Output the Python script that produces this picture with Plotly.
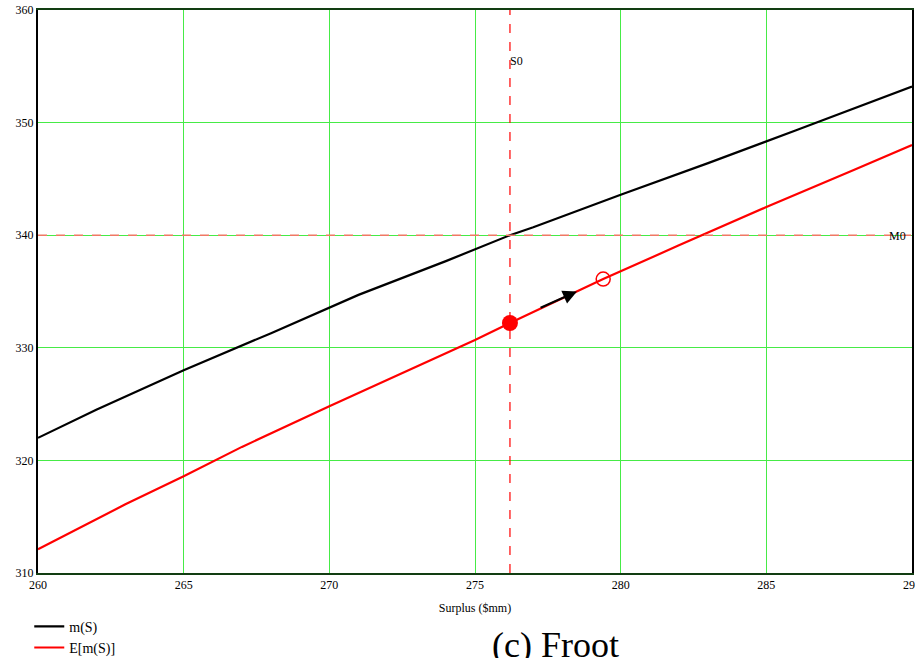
import plotly.graph_objects as go

# m(S) curve
s_m = [260, 262, 265, 268, 271, 274, 276.2, 277, 280, 283, 286, 290]
m_vals = [322.0, 324.5, 328.0, 331.3, 334.7, 337.7, 340.0, 340.7, 343.6, 346.4, 349.3, 353.2]

# E[m(S)] curve
s_e = [260, 263, 265, 267, 270, 273, 275, 276.2, 279.4, 282, 285, 288, 290]
e_vals = [312.1, 316.1, 318.6, 321.2, 324.8, 328.3, 330.7, 332.2, 336.1, 339.1, 342.5, 345.8, 348.0]

S0 = 276.2
M0 = 340.0
start_pt = (276.2, 332.2)
end_pt = (279.4, 336.1)
arrow_tail = (277.2, 333.5)
arrow_head = (278.5, 335.0)

x_ticks = [260, 265, 270, 275, 280, 285, 290]
y_ticks = [310, 320, 330, 340, 350, 360]

FONT = "Liberation Serif"
GRID = "rgb(70,235,70)"

fig = go.Figure()
fig.add_trace(go.Scatter(x=s_m, y=m_vals, mode="lines", name="m(S)",
                         line=dict(color="black", width=2.2)))
fig.add_trace(go.Scatter(x=s_e, y=e_vals, mode="lines", name="E[m(S)]",
                         line=dict(color="red", width=2.2)))
# reference lines
fig.add_trace(go.Scatter(x=[260, 290], y=[M0, M0], mode="lines", showlegend=False,
                         line=dict(color="rgb(240,120,100)", width=1.5, dash="dash")))
fig.add_trace(go.Scatter(x=[S0, S0], y=[310, 360], mode="lines", showlegend=False,
                         line=dict(color="red", width=1.2, dash="dash")))
# markers
fig.add_trace(go.Scatter(x=[start_pt[0]], y=[start_pt[1]], mode="markers", showlegend=False,
                         marker=dict(color="red", size=16)))
fig.add_trace(go.Scatter(x=[end_pt[0]], y=[end_pt[1]], mode="markers", showlegend=False,
                         marker=dict(color="red", size=14, symbol="circle-open",
                                     line=dict(color="red", width=1.5))))

fig.add_annotation(x=arrow_head[0], y=arrow_head[1], ax=arrow_tail[0], ay=arrow_tail[1],
                   xref="x", yref="y", axref="x", ayref="y", text="", showarrow=True,
                   arrowhead=2, arrowsize=1.4, arrowwidth=2, arrowcolor="black")
fig.add_annotation(x=S0, y=355.5, text="S0", showarrow=False, xanchor="left", xshift=-2,
                   font=dict(family=FONT, size=12, color="black"))
fig.add_annotation(x=290, y=M0, text="M0", showarrow=False, xanchor="right", xshift=-4, yshift=-1,
                   font=dict(family=FONT, size=12, color="black"))
fig.add_annotation(x=0.592, y=-0.089, xref="paper", yref="paper", yanchor="top",
                   text="(c) Froot", showarrow=False,
                   font=dict(family=FONT, size=36, color="black"))

fig.update_layout(
    width=915, height=658,
    margin=dict(l=38, r=3, t=10, b=85, autoexpand=False),
    paper_bgcolor="white", plot_bgcolor="white",
    font=dict(family=FONT, size=12, color="black"),
    showlegend=True,
    legend=dict(x=-0.01, y=-0.067, xanchor="left", yanchor="top",
                font=dict(family=FONT, size=14), bgcolor="rgba(0,0,0,0)",
                tracegroupgap=0, itemwidth=30),
    xaxis=dict(range=[260, 290], tickvals=x_ticks, showgrid=True, gridcolor=GRID, gridwidth=1,
               zeroline=False, showline=True, linecolor="#123d12", linewidth=2, mirror=True,
               ticks="", tickfont=dict(family=FONT, size=12), automargin=False,
               ticklabeloverflow="allow",
               title=dict(text="Surplus ($mm)", font=dict(family=FONT, size=12), standoff=12)),
    yaxis=dict(range=[310, 360], tickvals=y_ticks, showgrid=True, gridcolor=GRID, gridwidth=1,
               zeroline=False, showline=True, linecolor="black", linewidth=2, mirror=True,
               ticks="", tickfont=dict(family=FONT, size=12), automargin=False,
               ticklabeloverflow="allow"),
)

fig.write_html(
    "out.html",
    config={"displayModeBar": False},
    post_script="document.body.style.margin='0';document.documentElement.style.overflow='hidden';",
)
